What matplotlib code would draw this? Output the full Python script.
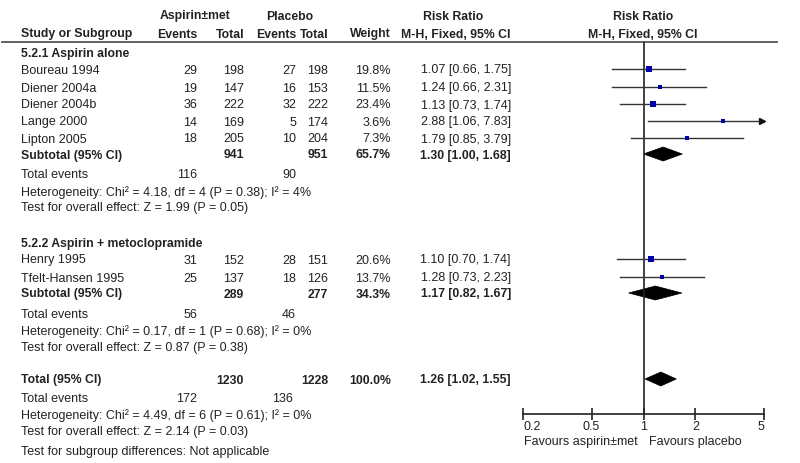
import numpy as np
import matplotlib.pyplot as plt
from matplotlib.patches import Polygon

plt.rcParams['font.family'] = ['Liberation Sans', 'DejaVu Sans']

# Study level data
studies1 = ["Boureau 1994", "Diener 2004a", "Diener 2004b", "Lange 2000", "Lipton 2005"]
asp_events1 = [29, 19, 36, 14, 18]
asp_total1 = [198, 147, 222, 169, 205]
pla_events1 = [27, 16, 32, 5, 10]
pla_total1 = [198, 153, 222, 174, 204]
weight1 = [19.8, 11.5, 23.4, 3.6, 7.3]
rr1 = [1.07, 1.24, 1.13, 2.88, 1.79]
lo1 = [0.66, 0.66, 0.73, 1.06, 0.85]
hi1 = [1.75, 2.31, 1.74, 7.83, 3.79]

studies2 = ["Henry 1995", "Tfelt-Hansen 1995"]
asp_events2 = [31, 25]
asp_total2 = [152, 137]
pla_events2 = [28, 18]
pla_total2 = [151, 126]
weight2 = [20.6, 13.7]
rr2 = [1.10, 1.28]
lo2 = [0.70, 0.73]
hi2 = [1.74, 2.23]

# Subgroup and overall summaries
group_names = ["5.2.1 Aspirin alone", "5.2.2 Aspirin + metoclopramide"]
sub_asp_total = [941, 289]
sub_pla_total = [951, 277]
sub_asp_events = [116, 56]
sub_pla_events = [90, 46]
sub_weight = [65.7, 34.3]
sub_rr = [1.30, 1.17]
sub_lo = [1.00, 0.82]
sub_hi = [1.68, 1.67]
sub_het = ["Heterogeneity: Chi\u00b2 = 4.18, df = 4 (P = 0.38); I\u00b2 = 4%",
           "Heterogeneity: Chi\u00b2 = 0.17, df = 1 (P = 0.68); I\u00b2 = 0%"]
sub_z = ["Test for overall effect: Z = 1.99 (P = 0.05)",
         "Test for overall effect: Z = 0.87 (P = 0.38)"]

tot_asp_total, tot_pla_total = 1230, 1228
tot_asp_events, tot_pla_events = 172, 136
tot_rr, tot_lo, tot_hi = 1.26, 1.02, 1.55
tot_het = "Heterogeneity: Chi\u00b2 = 4.49, df = 6 (P = 0.61); I\u00b2 = 0%"
tot_z = "Test for overall effect: Z = 2.14 (P = 0.03)"
tot_sub = "Test for subgroup differences: Not applicable"

xticks = [0.2, 0.5, 1, 2, 5]

# row positions in pixels (layout)
rows_g1 = [69, 87, 104, 121, 138]
rows_g2 = [259, 277]
sub_rows = [154, 293]
head_rows = [52, 242]
info_rows = [[174, 191, 207], [313, 330, 347]]
tot_row = 379
tot_info = [398, 414, 431, 451]

fig = plt.figure(figsize=(8, 4.63), dpi=100)
ax = fig.add_axes([0, 0, 1, 1])
ax.set_xlim(0, 800)
ax.set_ylim(463, 0)
ax.axis('off')

fs = 9.0
fs_b = 8.8
tc = '#222222'
def t(x, y, s, ha='left', bold=False):
    ax.text(x, y + 1.5, s, ha=ha, va='center', fontsize=fs_b if bold else fs, color=tc,
            fontweight='bold' if bold else 'normal')

col_x = {'study': 21, 'ae': 197, 'at': 244, 'pe': 296, 'pt': 328, 'w': 391, 'rr': 511}

# header
t(195, 15, "Aspirin\u00b1met", ha='center', bold=True)
t(290, 15, "Placebo", ha='center', bold=True)
t(453, 15, "Risk Ratio", ha='center', bold=True)
t(643, 15, "Risk Ratio", ha='center', bold=True)
t(col_x['study'], 33, "Study or Subgroup", bold=True)
t(col_x['ae'], 33, "Events", ha='right', bold=True)
t(col_x['at'], 33, "Total", ha='right', bold=True)
t(col_x['pe'], 33, "Events", ha='right', bold=True)
t(col_x['pt'], 33, "Total", ha='right', bold=True)
t(col_x['w'], 33, "Weight", ha='right', bold=True)
t(456, 33, "M-H, Fixed, 95% CI", ha='center', bold=True)
t(643, 33, "M-H, Fixed, 95% CI", ha='center', bold=True)
ax.plot([2, 777], [42, 42], color='#555555', lw=1.3)

# forest axes: x=0.2..5 spans pixels 523..764, y from 42 to 414
fx = fig.add_axes([523 / 800, (463 - 414) / 463, 241 / 800, (414 - 42) / 463])
fx.set_xscale('log')
fx.set_xlim(0.2, 5)
fx.set_ylim(414, 42)
fx.patch.set_visible(False)
for s in ['top', 'right', 'left']:
    fx.spines[s].set_visible(False)
fx.spines['bottom'].set_linewidth(1.2)
fx.spines['bottom'].set_color('#222222')
fx.set_yticks([])
fx.set_xticks(xticks)
fx.set_xticklabels([str(v) for v in xticks])
fx.minorticks_off()
fx.tick_params(axis='x', direction='inout', length=8, width=1.2, color='#222222',
               labelsize=fs, labelcolor=tc, pad=1)
labs = fx.get_xticklabels()
labs[0].set_horizontalalignment('left')
labs[-1].set_horizontalalignment('right')
fx.axvline(1, color='#222222', lw=1.2)

def study_row(y, name, ae, at, pe, pt, w, r, l, h):
    t(col_x['study'], y, name)
    t(col_x['ae'], y, str(ae), ha='right')
    t(col_x['at'], y, str(at), ha='right')
    t(col_x['pe'], y, str(pe), ha='right')
    t(col_x['pt'], y, str(pt), ha='right')
    t(col_x['w'], y, f"{w:.1f}%", ha='right')
    t(col_x['rr'], y, f"{r:.2f} [{l:.2f}, {h:.2f}]", ha='right')
    if h > 5:
        fx.plot([l, 4.85], [y, y], color='#333333', lw=1)
        fx.plot(4.85, y, marker='>', color='#111111', ms=5, clip_on=False)
    else:
        fx.plot([l, h], [y, y], color='#333333', lw=1)
    fx.plot(r, y, marker='s', color='#0000A8', ms=max(2.3, 0.85 * np.sqrt(w)), mew=0)

def diamond(y, r, l, h):
    fx.add_patch(Polygon([(l, y), (r, y - 7), (h, y), (r, y + 7)], closed=True,
                         facecolor='black', edgecolor='black', lw=0.5))

groups = [
    (studies1, asp_events1, asp_total1, pla_events1, pla_total1, weight1, rr1, lo1, hi1, rows_g1),
    (studies2, asp_events2, asp_total2, pla_events2, pla_total2, weight2, rr2, lo2, hi2, rows_g2),
]
for g, (names, ae, at, pe, pt, w, r, l, h, ys) in enumerate(groups):
    t(col_x['study'], head_rows[g], group_names[g], bold=True)
    for i in range(len(names)):
        study_row(ys[i], names[i], ae[i], at[i], pe[i], pt[i], w[i], r[i], l[i], h[i])
    ys_ = sub_rows[g]
    t(col_x['study'], ys_, "Subtotal (95% CI)", bold=True)
    t(col_x['at'], ys_, str(sub_asp_total[g]), ha='right', bold=True)
    t(col_x['pt'], ys_, str(sub_pla_total[g]), ha='right', bold=True)
    t(col_x['w'], ys_, f"{sub_weight[g]:.1f}%", ha='right', bold=True)
    t(col_x['rr'], ys_, f"{sub_rr[g]:.2f} [{sub_lo[g]:.2f}, {sub_hi[g]:.2f}]", ha='right', bold=True)
    diamond(ys_, sub_rr[g], sub_lo[g], sub_hi[g])
    r0, r1, r2 = info_rows[g]
    t(col_x['study'], r0, "Total events")
    t(col_x['ae'], r0, str(sub_asp_events[g]), ha='right')
    t(col_x['pe'], r0, str(sub_pla_events[g]), ha='right')
    t(col_x['study'], r1, sub_het[g])
    t(col_x['study'], r2, sub_z[g])

# overall
t(col_x['study'], tot_row, "Total (95% CI)", bold=True)
t(col_x['at'], tot_row, str(tot_asp_total), ha='right', bold=True)
t(col_x['pt'], tot_row, str(tot_pla_total), ha='right', bold=True)
t(col_x['w'], tot_row, "100.0%", ha='right', bold=True)
t(col_x['rr'], tot_row, f"{tot_rr:.2f} [{tot_lo:.2f}, {tot_hi:.2f}]", ha='right', bold=True)
diamond(tot_row, tot_rr, tot_lo, tot_hi)
t(col_x['study'], tot_info[0], "Total events")
t(col_x['ae'], tot_info[0], str(tot_asp_events), ha='right')
t(col_x['pe'] - 3, tot_info[0], str(tot_pla_events), ha='right')
t(col_x['study'], tot_info[1], tot_het)
t(col_x['study'], tot_info[2], tot_z)
t(col_x['study'], tot_info[3], tot_sub)

t(638, 440, "Favours aspirin\u00b1met", ha='right')
t(649, 440, "Favours placebo")

fig.savefig('out.png', dpi=100)
